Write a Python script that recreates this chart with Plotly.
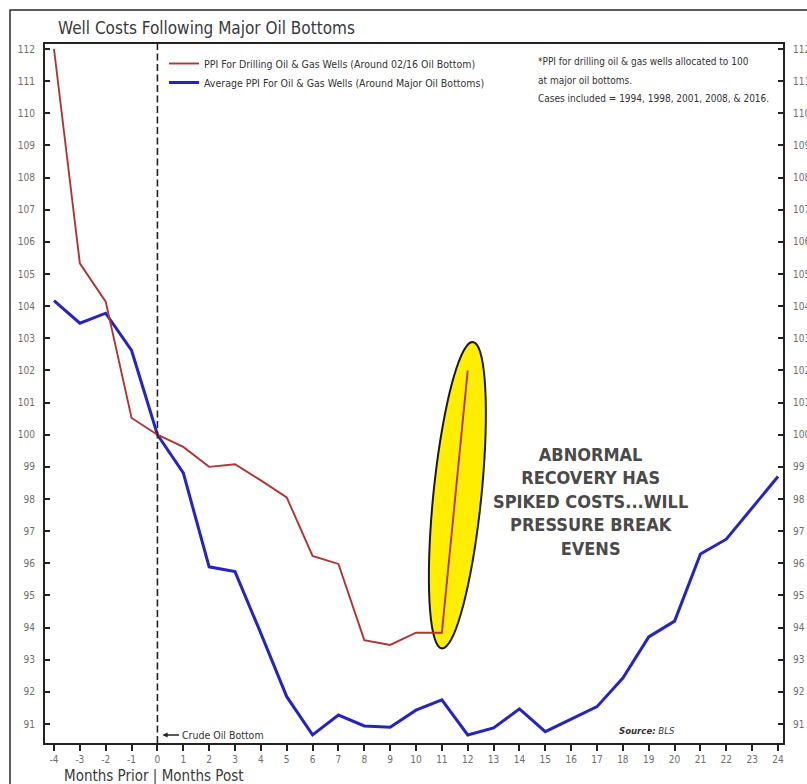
import math
import plotly.graph_objects as go

# Months relative to the crude oil bottom
months_red = list(range(-4, 13))
months_blue = list(range(-4, 25))

# PPI for drilling oil & gas wells around the 02/16 oil bottom (indexed to 100)
ppi_2016 = [112.0, 105.33, 104.14, 100.52, 100.0, 99.62, 99.0, 99.08, 98.58,
            98.05, 96.23, 95.98, 93.61, 93.46, 93.84, 93.84, 102.0]

# Average PPI for oil & gas wells around major oil bottoms (indexed to 100)
ppi_avg = [104.17, 103.47, 103.78, 102.62, 100.0, 98.81, 95.89, 95.74, 93.82,
           91.85, 90.66, 91.28, 90.94, 90.90, 91.43, 91.75, 90.66, 90.88, 91.47,
           90.76, 91.15, 91.54, 92.43, 93.71, 94.20, 96.29, 96.75, 97.72, 98.70]

y_ticks = list(range(91, 113))
x_ticks = list(range(-4, 25))

W, H = 807, 784
ML, MR, MT, MB = 45, 24, 44, 41
PW, PH = W - ML - MR, H - MT - MB
X_RANGE = [-4.348, 24.193]
Y_RANGE = [90.409, 112.156]

NARROW = "Liberation Sans Narrow, DejaVu Sans Condensed, Arial Narrow, sans-serif"
TICKFONT = dict(family=NARROW, size=10, color="#6e6e6e")


def px(x):
    return (x - ML) / PW


def py(y):
    return (MT + PH - y) / PH


fig = go.Figure()
fig.add_trace(go.Scatter(
    x=months_blue, y=ppi_avg, mode="lines",
    name="Average PPI For Oil & Gas Wells (Around Major Oil Bottoms)",
    line=dict(color="#2424c4", width=3), legendrank=2))
fig.add_trace(go.Scatter(
    x=months_red, y=ppi_2016, mode="lines",
    name="PPI For Drilling Oil & Gas Wells (Around 02/16 Oil Bottom)",
    line=dict(color="#b03434", width=1.9), legendrank=1))
# invisible trace to carry the right-hand axis
fig.add_trace(go.Scatter(x=[X_RANGE[0]], y=[100], yaxis="y2", mode="markers",
                         marker=dict(opacity=0), showlegend=False, hoverinfo="skip"))

# highlight ellipse around the latest spike (months 11-12 of the 2016 series)
sx = PW / (X_RANGE[1] - X_RANGE[0])
sy = PH / (Y_RANGE[1] - Y_RANGE[0])
cx, cy = 11.6, 98.12
a_major, a_minor, tilt = 154, 24, math.radians(5.8)
pts = []
for i in range(73):
    t = 2 * math.pi * i / 72
    lx, ly = a_minor * math.cos(t), a_major * math.sin(t)
    ox = lx * math.cos(tilt) + ly * math.sin(tilt)
    oy = lx * math.sin(tilt) - ly * math.cos(tilt)
    pts.append((cx + ox / sx, cy - oy / sy))
path = "M " + " L ".join(f"{a:.4f},{b:.4f}" for a, b in pts) + " Z"
fig.add_shape(type="path", path=path, xref="x", yref="y", layer="below",
              fillcolor="#ffee00", line=dict(color="#1a1a1a", width=2))

# crude oil bottom marker
fig.add_shape(type="line", xref="x", yref="paper", x0=0, x1=0, y0=0, y1=1,
              line=dict(color="#222222", width=1.6, dash="7px,3.5px"))

# outer chart frame
fig.add_shape(type="rect", xref="paper", yref="paper",
              x0=px(10), x1=px(840), y0=py(10), y1=py(820),
              line=dict(color="#2a2a2a", width=1.5), fillcolor="rgba(0,0,0,0)")

ann = []
ann.append(dict(text="Well Costs Following Major Oil Bottoms", x=px(56), y=py(28),
                xanchor="left", yanchor="middle",
                font=dict(family=NARROW, size=17, color="#3a3a3a")))
ann.append(dict(text="Months Prior | Months Post", x=px(62), y=py(776),
                xanchor="left", yanchor="middle",
                font=dict(family=NARROW, size=15, color="#3a3a3a")))
note = ["*PPI for drilling oil & gas wells allocated to 100",
        "at major oil bottoms.",
        "Cases included = 1994, 1998, 2001, 2008, & 2016."]
for i, line in enumerate(note):
    ann.append(dict(text=line, x=px(536), y=py(62 + 18 * i), xanchor="left",
                    yanchor="middle", font=dict(family=NARROW, size=10, color="#333333")))
ann.append(dict(text="Crude Oil Bottom", x=0, xref="x", y=py(735),
                xanchor="left", yanchor="middle", xshift=23,
                font=dict(family=NARROW, size=10.5, color="#333333")))
ann.append(dict(text="", x=0, xref="x", y=py(735), xshift=5, showarrow=True,
                ax=18, ay=0, arrowhead=2, arrowsize=0.8, arrowwidth=1.3,
                arrowcolor="#222222", standoff=0))
ann.append(dict(text="<b><i>Source:</i></b> <i>BLS</i>", x=px(617), y=py(730),
                xanchor="left", yanchor="middle",
                font=dict(family=NARROW, size=9.5, color="#333333")))
ann.append(dict(text="<b>ABNORMAL<br>RECOVERY HAS<br>SPIKED COSTS...WILL<br>"
                     "PRESSURE BREAK<br>EVENS</b>",
                x=px(590), y=py(501), xanchor="center", yanchor="middle", align="center",
                font=dict(family=NARROW, size=18, color="#4a4a4a")))
for a in ann:
    a.setdefault("xref", "paper")
    a.setdefault("yref", "paper")
    a.setdefault("showarrow", False)

fig.update_layout(
    width=W, height=H,
    margin=dict(l=ML, r=MR, t=MT, b=MB, pad=0, autoexpand=False),
    paper_bgcolor="white", plot_bgcolor="white",
    showlegend=True,
    legend=dict(x=px(164), y=py(49), xanchor="left", yanchor="top",
                bgcolor="rgba(0,0,0,0)", font=dict(family=NARROW, size=10.5, color="#333333"),
                itemwidth=30, tracegroupgap=0, traceorder="normal"),
    annotations=ann,
    xaxis=dict(range=X_RANGE, tickvals=x_ticks, ticktext=[str(v) for v in x_ticks],
               showgrid=False, zeroline=False, showline=True, linecolor="#222222",
               linewidth=2, mirror=True, ticks="outside", ticklen=6, tickwidth=1.5,
               tickcolor="#222222", tickfont=TICKFONT, automargin=False),
    yaxis=dict(range=Y_RANGE, tickvals=y_ticks, showgrid=False, zeroline=False,
               showline=True, linecolor="#222222", linewidth=2, ticks="inside",
               ticklen=5, tickwidth=1.5, tickcolor="#222222", tickfont=TICKFONT,
               ticklabelstandoff=6, automargin=False),
    yaxis2=dict(range=Y_RANGE, tickvals=y_ticks, overlaying="y", side="right",
                showgrid=False, zeroline=False, showline=True, linecolor="#222222",
                linewidth=2, ticks="inside", ticklen=5, tickwidth=1.5,
                tickcolor="#222222", tickfont=TICKFONT, ticklabelstandoff=6,
                automargin=False),
)

fig.write_html("out.html")
